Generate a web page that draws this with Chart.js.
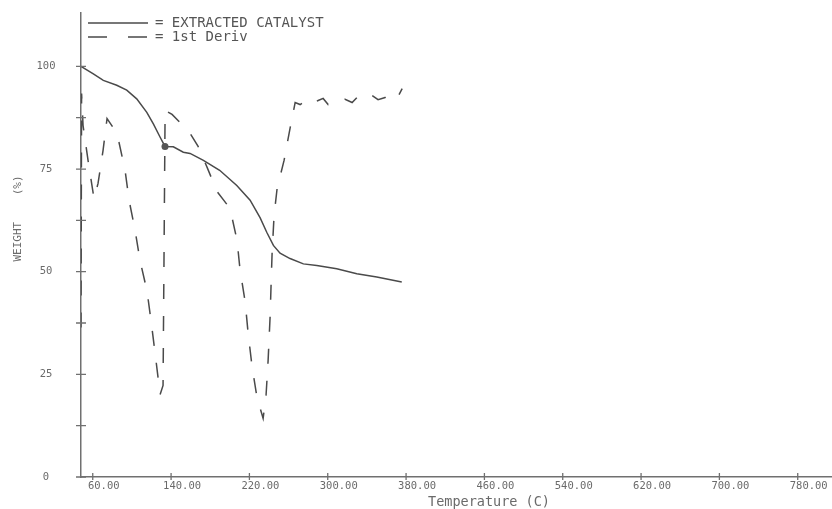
<!DOCTYPE html>
<html>
<head>
<meta charset="utf-8">
<title>TGA - Extracted Catalyst</title>
<script src="https://cdn.jsdelivr.net/npm/chart.js@4.4.1/dist/chart.umd.min.js"></script>
<style>
    html, body { margin: 0; padding: 0; background: #fff; overflow: hidden; }
    #wrap { position: relative; width: 832px; height: 509px; }
</style>
</head>
<body>
<div id="wrap"><canvas id="tga"></canvas></div>
<script>
'use strict';

// weight loss curve: temperature (C) against weight (%)
var weightTemp = [48.0, 60.6, 70.8, 84.5, 94.7, 104.9, 115.2, 121.9, 128.7, 133.8,
    142.3, 152.5, 159.4, 173.0, 189.6, 207.1, 220.7, 231.0, 237.7, 244.5,
    251.3, 261.5, 275.1, 288.8, 309.2, 329.7, 350.1, 375.6];
var weightPct = [100.0, 98.2, 96.6, 95.4, 94.2, 92.1, 88.8, 86.0, 82.8, 80.5,
    80.4, 79.1, 78.8, 77.1, 74.7, 71.0, 67.4, 63.1, 59.6, 56.4,
    54.5, 53.2, 51.9, 51.5, 50.7, 49.5, 48.7, 47.5];

// first derivative trace, plotted against the same weight axis
var derivTemp = [48.0, 48.6, 50.1, 55.2, 61.3, 65.4, 70.5, 74.6, 84.8, 93.0,
    97.1, 103.2, 108.3, 115.5, 119.6, 123.7, 128.8, 131.8, 133.9, 141.0,
    149.2, 159.4, 167.6, 176.8, 187.0, 200.2, 207.4, 210.5, 215.6, 218.7,
    222.8, 227.9, 234.0, 237.0, 239.1, 241.2, 242.2, 243.2, 245.2, 248.3,
    255.4, 261.5, 266.7, 271.8, 277.9, 284.0, 290.2, 295.3, 300.4, 308.5,
    317.7, 324.9, 331.0, 338.2, 345.3, 351.4, 358.6, 365.8, 371.9, 376.0];
var derivVal = [36.4, 93.4, 85.6, 77.1, 67.8, 71.5, 79.5, 87.3, 83.7, 74.7,
    67.4, 60.1, 52.7, 45.2, 37.9, 30.1, 20.1, 22.3, 89.3, 88.3,
    86.3, 83.7, 80.5, 75.4, 69.5, 65.4, 57.6, 50.3, 42.8, 35.0,
    26.7, 19.2, 14.3, 19.9, 28.4, 39.4, 47.4, 54.7, 63.7, 70.3,
    77.1, 84.9, 91.2, 90.7, 91.7, 91.0, 91.7, 92.2, 90.7, 91.5,
    92.0, 91.2, 92.7, 92.2, 92.9, 91.9, 92.4, 93.6, 92.7, 94.6];

var seriesNames = ['EXTRACTED CATALYST', '1st Deriv'];

// axis ticks; y gets a minor tick every 12.5 %
var xTickValues = [60, 140, 220, 300, 380, 460, 540, 620, 700, 780];
var xTickLabels = ['60.00', '140.00', '220.00', '300.00', '380.00',
    '460.00', '540.00', '620.00', '700.00', '780.00'];
var yTickValues = [0, 12.5, 25, 37.5, 50, 62.5, 75, 87.5, 100];
var yTickLabels = ['0', '', '25', '', '50', '', '75', '', '100'];

// point on the weight curve flagged by the analyser
var markerTemp = 133.8;

var INK = '#4a4a4a';
var AXIS = '#707070';
var TEXT = '#6a6a6a';
var MONO = '"DejaVu Sans Mono", "Liberation Mono", monospace';

function toPoints(xs, ys) {
    return xs.map(function(x, i) { return { x: x, y: ys[i] }; });
}

// plotter style ticks that cross the axis line on both sides
var crossTicks = {
    id: 'crossTicks',
    afterDraw: function(chart) {
        var ctx = chart.ctx;
        var area = chart.chartArea;
        var xs = chart.scales.x;
        var ys = chart.scales.y;
        ctx.save();
        ctx.strokeStyle = AXIS;
        ctx.lineWidth = 1.3;
        ctx.beginPath();
        xs.ticks.forEach(function(t) {
            var px = xs.getPixelForValue(t.value);
            ctx.moveTo(px, area.bottom - 4);
            ctx.lineTo(px, area.bottom + 3);
        });
        ys.ticks.forEach(function(t) {
            var py = ys.getPixelForValue(t.value);
            ctx.moveTo(area.left - 5, py);
            ctx.lineTo(area.left + 5, py);
        });
        ctx.stroke();
        ctx.restore();
    }
};

// key in the top left corner, inside the plot
var plotKey = {
    id: 'plotKey',
    afterDraw: function(chart) {
        var ctx = chart.ctx;
        ctx.save();
        chart.data.datasets.forEach(function(ds, i) {
            var y = 23 + i * 14;
            ctx.strokeStyle = ds.borderColor;
            ctx.lineWidth = ds.borderWidth;
            ctx.setLineDash(ds.borderDash ? [19, 21] : []);
            ctx.beginPath();
            ctx.moveTo(88, y);
            ctx.lineTo(148, y);
            ctx.stroke();
            ctx.setLineDash([]);
            ctx.fillStyle = '#555';
            ctx.font = '14px ' + MONO;
            ctx.textBaseline = 'middle';
            ctx.fillText('= ' + ds.label, 155, y);
        });
        ctx.restore();
    }
};

new Chart(document.getElementById('tga'), {
    type: 'scatter',
    data: {
        datasets: [{
            label: seriesNames[0],
            data: toPoints(weightTemp, weightPct),
            showLine: true,
            borderColor: INK,
            borderWidth: 1.5,
            backgroundColor: '#555',
            pointBorderWidth: 0,
            pointRadius: function(c) {
                return weightTemp[c.dataIndex] === markerTemp ? 3.5 : 0;
            }
        }, {
            label: seriesNames[1],
            data: toPoints(derivTemp, derivVal),
            showLine: true,
            borderColor: INK,
            borderWidth: 1.5,
            borderDash: [15, 17],
            pointRadius: 0
        }]
    },
    options: {
        responsive: true,
        maintainAspectRatio: false,
        animation: false,
        events: [],
        layout: { padding: { top: 13, right: 0, bottom: 0, left: 0 } },
        plugins: {
            legend: { display: false },
            tooltip: { enabled: false }
        },
        scales: {
            x: {
                type: 'linear',
                min: 48,
                max: 815,
                afterBuildTicks: function(scale) {
                    scale.ticks = xTickValues.map(function(v) { return { value: v }; });
                },
                afterFit: function(scale) {
                    scale.height = 32;
                    scale.paddingLeft = 0;
                    scale.paddingRight = 0;
                },
                grid: { display: false, drawTicks: false },
                border: { display: true, color: AXIS, width: 1.5 },
                ticks: {
                    color: TEXT,
                    font: { family: MONO, size: 10.5 },
                    padding: 3,
                    labelOffset: 11,
                    maxRotation: 0,
                    autoSkip: false,
                    callback: function(v, i) { return xTickLabels[i]; }
                },
                title: {
                    display: true,
                    text: '        Temperature (C)',
                    color: TEXT,
                    font: { family: MONO, size: 13.5, lineHeight: 1 },
                    padding: { top: 0, bottom: 0 }
                }
            },
            y: {
                min: 0,
                max: 113,
                afterBuildTicks: function(scale) {
                    scale.ticks = yTickValues.map(function(v) { return { value: v }; });
                },
                afterFit: function(scale) {
                    scale.width = 81;
                    scale.paddingTop = 0;
                    scale.paddingBottom = 0;
                },
                grid: { display: false, drawTicks: false },
                border: { display: true, color: AXIS, width: 1.5 },
                ticks: {
                    color: TEXT,
                    font: { family: MONO, size: 10.5 },
                    padding: 25.5,
                    crossAlign: 'center',
                    autoSkip: false,
                    callback: function(v, i) { return yTickLabels[i]; }
                },
                title: {
                    display: true,
                    text: '        WEIGHT    (%)',
                    color: TEXT,
                    font: { family: MONO, size: 11, lineHeight: 1 },
                    padding: { top: 12.5, bottom: 0 }
                }
            }
        }
    },
    plugins: [crossTicks, plotKey]
});
</script>
</body>
</html>
